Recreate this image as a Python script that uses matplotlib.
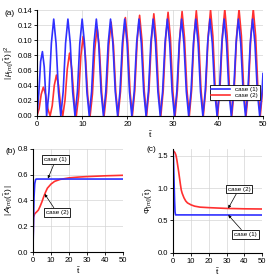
import matplotlib
matplotlib.use('Agg')
import matplotlib.pyplot as plt

plt.rcParams['font.family'] = ['Liberation Sans', 'DejaVu Sans']
plt.rcParams['mathtext.fontset'] = 'custom'
plt.rcParams['mathtext.rm'] = 'Liberation Sans'
plt.rcParams['mathtext.it'] = 'Liberation Sans:italic'

# (a) |mu|^2, case (1) blue, case (2) red
t_a1 = [0, 0.4, 0.8, 1.2, 1.6, 1.9, 2.13,
        2.65, 3.18, 3.70, 4.22, 4.75, 5.27,
        5.79, 6.32, 6.84, 7.36, 7.89, 8.41,
        8.94, 9.47, 9.99, 10.51, 11.04, 11.56,
        12.08, 12.61, 13.13, 13.65, 14.18, 14.70,
        15.22, 15.75, 16.27, 16.79, 17.32, 17.84,
        18.36, 18.89, 19.41, 19.93, 20.46, 20.98,
        21.51, 22.04, 22.56, 23.08, 23.61, 24.13,
        24.65, 25.18, 25.70, 26.22, 26.75, 27.27,
        27.79, 28.32, 28.84, 29.36, 29.89, 30.41,
        30.94, 31.47, 31.99, 32.51, 33.04, 33.56,
        34.08, 34.61, 35.13, 35.65, 36.18, 36.70,
        37.22, 37.75, 38.27, 38.79, 39.32, 39.84,
        40.36, 40.89, 41.41, 41.93, 42.46, 42.99,
        43.51, 44.04, 44.56, 45.08, 45.61, 46.13,
        46.65, 47.18, 47.70, 48.22, 48.75, 49.27,
        49.79, 50.0]
mu_a1 = [0, 0.03, 0.072, 0.085, 0.065, 0.03, 0] + \
        [0.032, 0.096, 0.128, 0.096, 0.032, 0] * 15 + \
        [0.032, 0.056]

t_a2 = [0, 0.47, 0.93, 1.4, 1.9, 2.4, 2.9,
        3.37, 3.83, 4.3, 4.77, 5.23, 5.7,
        6.2, 6.7, 7.2, 7.7, 8.2, 8.7,
        9.2, 9.7, 10.2, 10.72, 11.23, 11.75,
        12.27, 12.78, 13.3, 13.82, 14.33, 14.85,
        15.37, 15.88, 16.4, 16.92, 17.43, 17.95,
        18.48, 19.02, 19.55, 20.07, 20.58, 21.1,
        21.63, 22.17, 22.7, 23.22, 23.73, 24.25,
        24.78, 25.32, 25.85, 26.37, 26.88, 27.4,
        27.93, 28.47, 29.0, 29.52, 30.03, 30.55,
        31.07, 31.58, 32.1, 32.63, 33.17, 33.7,
        34.22, 34.73, 35.25, 35.77, 36.28, 36.8,
        37.33, 37.87, 38.4, 38.92, 39.43, 39.95,
        40.48, 41.02, 41.55, 42.07, 42.58, 43.1,
        43.63, 44.17, 44.7, 45.22, 45.73, 46.25,
        46.78, 47.32, 47.85, 48.37, 48.88, 49.4,
        49.92, 50.0]
mu_a2 = [0, 0.0095, 0.0285, 0.038, 0.0285, 0.0095, 0,
         0.0135, 0.0405, 0.054, 0.0405, 0.0135, 0,
         0.021, 0.062, 0.083, 0.062, 0.021, 0,
         0.026, 0.079, 0.105, 0.079, 0.026, 0,
         0.029, 0.088, 0.117, 0.088, 0.029, 0,
         0.031, 0.093, 0.124, 0.093, 0.031, 0,
         0.0325, 0.0975, 0.130, 0.0975, 0.0325, 0,
         0.033, 0.100, 0.133, 0.100, 0.033, 0,
         0.034, 0.101, 0.135, 0.101, 0.034, 0,
         0.034, 0.103, 0.137, 0.103, 0.034, 0,
         0.0345, 0.1035, 0.138, 0.1035, 0.0345, 0,
         0.035, 0.104, 0.139, 0.104, 0.035, 0,
         0.035, 0.105, 0.140, 0.105, 0.035, 0,
         0.035, 0.106, 0.141, 0.106, 0.035, 0,
         0.035, 0.106, 0.141, 0.106, 0.035, 0,
         0.035, 0.106, 0.141, 0.106, 0.035, 0,
         0.035, 0.040]

# (b) |A|
t_b1 = [0, 0.3, 0.6, 1.0, 1.5, 2.0, 50]
A_b1 = [0, 0.2, 0.42, 0.53, 0.563, 0.566, 0.566]
t_b2 = [0, 0.3, 1, 2, 3, 4, 5, 6, 7, 8, 10, 12, 15, 20, 25, 30, 40, 50]
A_b2 = [0, 0.27, 0.297, 0.31, 0.325, 0.355, 0.39, 0.43, 0.465, 0.495,
        0.527, 0.548, 0.563, 0.575, 0.581, 0.585, 0.591, 0.595]

# (c) Phi
t_c1 = [0, 0.25, 0.5, 0.75, 1.0, 1.3, 50]
P_c1 = [1.571, 1.3, 1.05, 0.8, 0.63, 0.585, 0.583]
t_c2 = [0, 0.5, 1, 1.5, 2, 2.5, 3, 3.5, 4, 4.5, 5, 6, 7, 8, 10, 12, 15, 20, 30, 40, 50]
P_c2 = [1.571, 1.565, 1.545, 1.51, 1.44, 1.35, 1.26, 1.16, 1.06, 0.97, 0.92,
        0.85, 0.80, 0.77, 0.74, 0.72, 0.705, 0.697, 0.685, 0.679, 0.676]

blue = '#3030ff'
red = '#ff3030'
fs = 5.5
xlab = r'$\mathrm{\tilde{t}}$'

fig = plt.figure(figsize=(2.79, 2.78), dpi=100)
ax_a = fig.add_axes([0.1326, 0.583, 0.81, 0.381])
ax_b = fig.add_axes([0.118, 0.0935, 0.324, 0.371])
ax_c = fig.add_axes([0.621, 0.091, 0.319, 0.372])


def style(ax):
    ax.grid(True, color='#d4d4d4', lw=0.5)
    ax.set_axisbelow(True)
    for s in ['top', 'right']:
        ax.spines[s].set_visible(False)
    for s in ['left', 'bottom']:
        ax.spines[s].set_linewidth(0.8)
    ax.tick_params(labelsize=fs, length=2, width=0.6, pad=1.5)
    ax.set_xlim(0, 50)
    ax.set_xticks([0, 10, 20, 30, 40, 50])


style(ax_a)
ax_a.plot(t_a2, mu_a2, color=red, lw=1.2, label='case (2)')
ax_a.plot(t_a1, mu_a1, color=blue, lw=1.2, label='case (1)')
ax_a.set_ylim(0, 0.14)
ax_a.set_yticks([0, 0.02, 0.04, 0.06, 0.08, 0.10, 0.12, 0.14])
ax_a.set_yticklabels(['0.00', '0.02', '0.04', '0.06', '0.08', '0.10', '0.12', '0.14'])
ax_a.set_xlabel(xlab, fontsize=6, labelpad=1)
ax_a.set_ylabel(r'$|\,\mu_{[m]}(\,\mathrm{\tilde{t}}\,)\,|^2$', fontsize=6, labelpad=2)
h, l = ax_a.get_legend_handles_labels()
leg = ax_a.legend(h[::-1], l[::-1], loc='lower right', fontsize=4.5, frameon=True,
                  fancybox=False, edgecolor='black', framealpha=1,
                  handlelength=3, borderpad=0.3, labelspacing=0.1,
                  bbox_to_anchor=(1.0, 0.12))
leg.get_frame().set_linewidth(0.6)
fig.text(0.015, 0.965, '(a)', fontsize=6, va='top')

style(ax_b)
ax_b.plot(t_b2, A_b2, color=red, lw=1.2)
ax_b.plot(t_b1, A_b1, color=blue, lw=1.2)
ax_b.set_ylim(0, 0.8)
ax_b.set_yticks([0, 0.2, 0.4, 0.6, 0.8])
ax_b.set_yticklabels(['0.0', '0.2', '0.4', '0.6', '0.8'])
ax_b.set_xlabel(xlab, fontsize=6, labelpad=1)
ax_b.set_ylabel(r'$|\,A_{[m]}(\,\mathrm{\tilde{t}}\,)\,|$', fontsize=6, labelpad=2)
box = dict(boxstyle='square,pad=0.3', fc='white', ec='black', lw=0.6)
arr = dict(arrowstyle='-|>', lw=0.5, color='black', mutation_scale=4, shrinkA=0, shrinkB=0)
ax_b.annotate('case (1)', xy=(8.3, 0.57), xytext=(12.6, 0.715), fontsize=4.5,
              ha='center', va='center', bbox=box, arrowprops=arr)
ax_b.annotate('case (2)', xy=(6.5, 0.45), xytext=(13.3, 0.307), fontsize=4.5,
              ha='center', va='center', bbox=box, arrowprops=arr)
fig.text(0.02, 0.468, '(b)', fontsize=6, va='top')

style(ax_c)
ax_c.plot(t_c2, P_c2, color=red, lw=1.2)
ax_c.plot(t_c1, P_c1, color=blue, lw=1.2)
ax_c.set_ylim(0, 1.6)
ax_c.set_yticks([0, 0.5, 1.0, 1.5])
ax_c.set_yticklabels(['0.0', '0.5', '1.0', '1.5'])
ax_c.set_xlabel(xlab, fontsize=6, labelpad=1)
ax_c.set_ylabel(r'$\Phi_{[m]}(\,\mathrm{\tilde{t}}\,)$', fontsize=6, labelpad=2)
ax_c.annotate('case (2)', xy=(30.9, 0.687), xytext=(36.9, 0.985), fontsize=4.5,
              ha='center', va='center', bbox=box, arrowprops=arr)
ax_c.annotate('case (1)', xy=(30.9, 0.583), xytext=(40.6, 0.284), fontsize=4.5,
              ha='center', va='center', bbox=box, arrowprops=arr)
fig.text(0.525, 0.475, '(c)', fontsize=6, va='top')

fig.savefig('out.png', dpi=100)
